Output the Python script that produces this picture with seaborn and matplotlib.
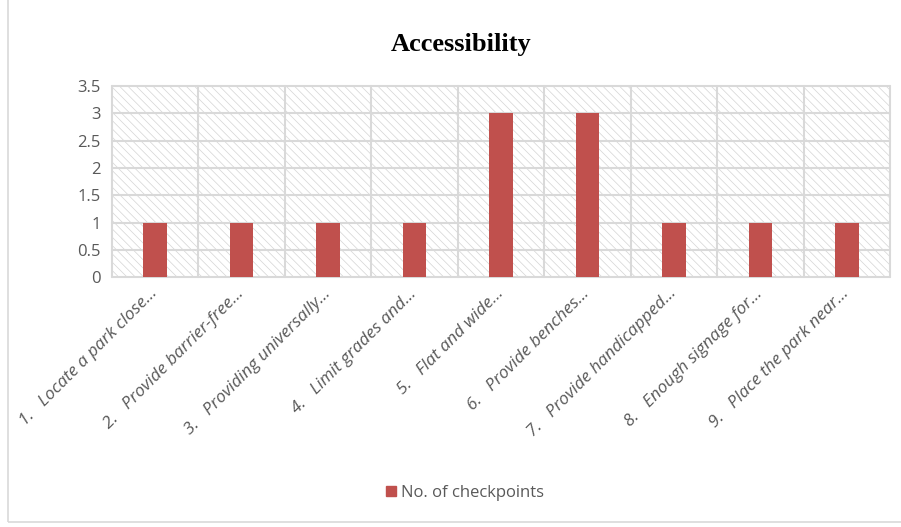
import matplotlib
matplotlib.use('Agg')
import matplotlib.pyplot as plt
import numpy as np
import pandas as pd
import seaborn as sns

# Datos del gráfico
categories = ['1.   Locate a park close…', '2.   Provide barrier-free…',
              '3.   Providing universally…', '4.   Limit grades and…',
              '5.   Flat and wide…', '6.   Provide benches…',
              '7.   Provide handicapped…', '8.   Enough signage for…',
              '9.   Place the park near…']
checkpoints = [1, 1, 1, 1, 3, 3, 1, 1, 1]
series_name = 'No. of checkpoints'
y_ticks = [0, 0.5, 1, 1.5, 2, 2.5, 3, 3.5]
y_tick_labels = ['0', '0.5', '1', '1.5', '2', '2.5', '3', '3.5']

df = pd.DataFrame({'category': categories, 'value': checkpoints})

sns.set_style('white')
plt.rcParams['font.family'] = ['Open Sans', 'DejaVu Sans']
plt.rcParams['hatch.color'] = '#d4d4d4'
plt.rcParams['hatch.linewidth'] = 0.5

bar_color = '#c0504d'
grid_color = '#d9d9d9'
text_color = '#595959'

fig = plt.figure(figsize=(9.01, 5.27), dpi=100)
ax = fig.add_axes([0.124, 0.474, 0.864, 0.363])

# fondo rayado del área de trazado
ax.patch.set_facecolor('white')
ax.patch.set_hatch('\\' * 4)
ax.patch.set_edgecolor('#d4d4d4')

sns.barplot(data=df, x='category', y='value', color=bar_color,
            width=0.27, saturation=1, ax=ax, linewidth=0, zorder=3)

ax.set_xlim(-0.5, len(categories) - 0.5)
ax.set_ylim(0, 3.5)
ax.set_yticks(y_ticks)
ax.set_yticklabels(y_tick_labels)

# cuadrícula: horizontales y separadores de categorías
for y in y_ticks:
    ax.axhline(y, color=grid_color, lw=1.5, zorder=1, clip_on=False)
for xb in np.arange(-0.5, len(categories), 1.0):
    ax.axvline(xb, color=grid_color, lw=1.5, zorder=1, clip_on=False)

for s in ax.spines.values():
    s.set_visible(False)

ax.tick_params(axis='both', length=0, colors=text_color, labelsize=12)
ax.tick_params(axis='y', pad=8)
ax.tick_params(axis='x', pad=10)
ax.set_xlabel('')
ax.set_ylabel('')
for lbl in ax.get_xticklabels():
    lbl.set_rotation(45)
    lbl.set_ha('right')
    lbl.set_va('center')
    lbl.set_rotation_mode('anchor')
    lbl.set_fontstyle('italic')
    lbl.set_fontsize(12.5)
    lbl.set_color(text_color)

fig.text(0.512, 0.915, 'Accessibility', ha='center', va='center',
         fontsize=19, fontweight='bold', family='Liberation Serif', color='black')

fig.legend(handles=[plt.Rectangle((0, 0), 1, 1, color=bar_color)], labels=[series_name],
           loc='center', bbox_to_anchor=(0.516, 0.065), frameon=False,
           handlelength=0.6, handleheight=0.6, handletextpad=0.3,
           fontsize=12, labelcolor=text_color)

# marco exterior del gráfico
fig.patches.append(plt.Rectangle((0.009, 0.009), 1.2, 1.2, transform=fig.transFigure,
                                 fill=False, edgecolor='#d9d9d9', lw=1.2))

fig.savefig('out.png', dpi=100)
